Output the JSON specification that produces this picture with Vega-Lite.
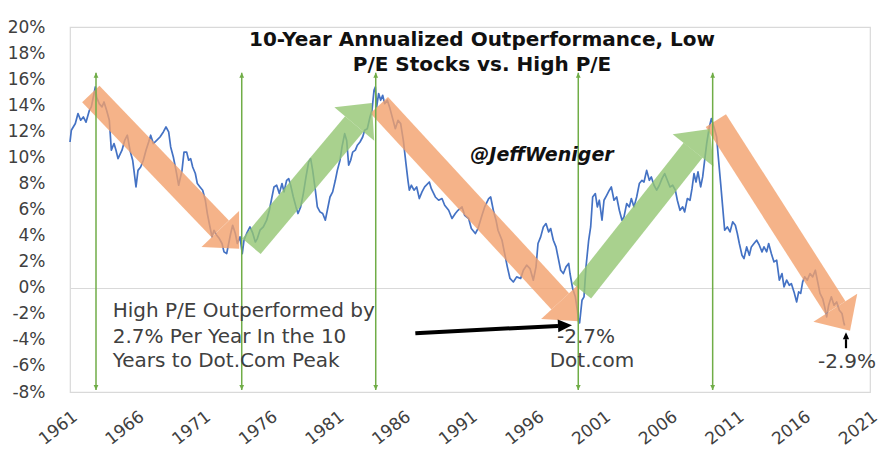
{
  "$schema": "https://vega.github.io/schema/vega-lite/v6.json",
  "width": 800,
  "height": 365,
  "autosize": {"type": "none"},
  "padding": {"left": 70, "top": 27, "right": 24, "bottom": 69},
  "background": "white",
  "config": {
    "font": "DejaVu Sans",
    "view": {"stroke": "#d9d9d9", "strokeWidth": 1.2},
    "axis": {"labelFont": "DejaVu Sans", "labelColor": "#404040", "ticks": false, "domain": false, "title": null}
  },
  "datasets": {
    "outperf": [
      {"year": 1961.0, "pct": 11.18}, {"year": 1961.1, "pct": 12.08}, {"year": 1961.4, "pct": 12.6}, {"year": 1961.6, "pct": 13.36},
      {"year": 1961.8, "pct": 12.85}, {"year": 1962.0, "pct": 13.1}, {"year": 1962.2, "pct": 12.7}, {"year": 1962.45, "pct": 13.6},
      {"year": 1962.6, "pct": 13.87}, {"year": 1962.9, "pct": 15.4}, {"year": 1963.0, "pct": 14.6}, {"year": 1963.2, "pct": 14.1},
      {"year": 1963.4, "pct": 13.87}, {"year": 1963.55, "pct": 14.25}, {"year": 1963.75, "pct": 13.6}, {"year": 1963.95, "pct": 12.85},
      {"year": 1964.1, "pct": 10.55}, {"year": 1964.3, "pct": 11.06}, {"year": 1964.45, "pct": 10.55}, {"year": 1964.6, "pct": 9.9},
      {"year": 1964.9, "pct": 10.55}, {"year": 1965.1, "pct": 11.3}, {"year": 1965.3, "pct": 11.7}, {"year": 1965.5, "pct": 10.55},
      {"year": 1965.7, "pct": 9.78}, {"year": 1965.95, "pct": 7.73}, {"year": 1966.1, "pct": 9.0}, {"year": 1966.3, "pct": 9.26},
      {"year": 1966.5, "pct": 9.78}, {"year": 1966.7, "pct": 10.55}, {"year": 1966.9, "pct": 11.18}, {"year": 1967.05, "pct": 11.7},
      {"year": 1967.25, "pct": 11.06}, {"year": 1967.5, "pct": 11.3}, {"year": 1967.75, "pct": 11.56}, {"year": 1968.0, "pct": 11.95},
      {"year": 1968.2, "pct": 12.33}, {"year": 1968.4, "pct": 11.95}, {"year": 1968.55, "pct": 10.8}, {"year": 1968.75, "pct": 10.03},
      {"year": 1968.95, "pct": 9.0}, {"year": 1969.15, "pct": 7.86}, {"year": 1969.4, "pct": 9.0}, {"year": 1969.55, "pct": 10.4},
      {"year": 1969.75, "pct": 10.4}, {"year": 1969.9, "pct": 9.78}, {"year": 1970.05, "pct": 9.9}, {"year": 1970.2, "pct": 9.26},
      {"year": 1970.4, "pct": 8.76}, {"year": 1970.55, "pct": 7.99}, {"year": 1970.75, "pct": 7.73}, {"year": 1970.95, "pct": 7.48},
      {"year": 1971.15, "pct": 6.71}, {"year": 1971.3, "pct": 5.69}, {"year": 1971.5, "pct": 4.66}, {"year": 1971.65, "pct": 3.9},
      {"year": 1971.8, "pct": 4.4}, {"year": 1972.0, "pct": 4.03}, {"year": 1972.2, "pct": 3.77}, {"year": 1972.4, "pct": 3.39},
      {"year": 1972.55, "pct": 2.75}, {"year": 1972.75, "pct": 2.62}, {"year": 1972.9, "pct": 3.39}, {"year": 1973.05, "pct": 4.16},
      {"year": 1973.2, "pct": 4.79}, {"year": 1973.4, "pct": 4.16}, {"year": 1973.55, "pct": 3.39}, {"year": 1973.75, "pct": 3.9},
      {"year": 1973.92, "pct": 2.62}, {"year": 1974.05, "pct": 3.64}, {"year": 1974.25, "pct": 4.16}, {"year": 1974.5, "pct": 4.66},
      {"year": 1974.7, "pct": 4.2}, {"year": 1974.9, "pct": 3.51}, {"year": 1975.05, "pct": 3.77}, {"year": 1975.25, "pct": 4.41},
      {"year": 1975.5, "pct": 4.66}, {"year": 1975.75, "pct": 5.18}, {"year": 1975.95, "pct": 5.94}, {"year": 1976.1, "pct": 6.71},
      {"year": 1976.3, "pct": 7.73}, {"year": 1976.5, "pct": 7.86}, {"year": 1976.7, "pct": 7.22}, {"year": 1976.9, "pct": 7.99},
      {"year": 1977.05, "pct": 7.35}, {"year": 1977.25, "pct": 8.24}, {"year": 1977.4, "pct": 8.37}, {"year": 1977.55, "pct": 7.86},
      {"year": 1977.75, "pct": 6.96}, {"year": 1977.95, "pct": 6.2}, {"year": 1978.1, "pct": 5.69}, {"year": 1978.3, "pct": 6.2},
      {"year": 1978.5, "pct": 7.22}, {"year": 1978.7, "pct": 8.5}, {"year": 1978.9, "pct": 9.65}, {"year": 1979.05, "pct": 9.9},
      {"year": 1979.2, "pct": 9.0}, {"year": 1979.4, "pct": 7.48}, {"year": 1979.55, "pct": 6.2}, {"year": 1979.75, "pct": 5.82},
      {"year": 1979.95, "pct": 5.69}, {"year": 1980.15, "pct": 5.18}, {"year": 1980.3, "pct": 5.94}, {"year": 1980.5, "pct": 6.96},
      {"year": 1980.7, "pct": 7.35}, {"year": 1980.9, "pct": 8.24}, {"year": 1981.05, "pct": 9.0}, {"year": 1981.25, "pct": 9.78},
      {"year": 1981.4, "pct": 10.8}, {"year": 1981.6, "pct": 11.82}, {"year": 1981.75, "pct": 11.3}, {"year": 1981.9, "pct": 9.4},
      {"year": 1982.05, "pct": 9.78}, {"year": 1982.2, "pct": 10.4}, {"year": 1982.4, "pct": 10.55}, {"year": 1982.55, "pct": 10.93},
      {"year": 1982.75, "pct": 11.18}, {"year": 1982.95, "pct": 11.56}, {"year": 1983.1, "pct": 12.08}, {"year": 1983.3, "pct": 12.2},
      {"year": 1983.5, "pct": 13.1}, {"year": 1983.65, "pct": 13.61}, {"year": 1983.8, "pct": 15.15}, {"year": 1983.9, "pct": 15.4},
      {"year": 1984.0, "pct": 13.87}, {"year": 1984.15, "pct": 14.9}, {"year": 1984.3, "pct": 14.38}, {"year": 1984.45, "pct": 14.76},
      {"year": 1984.6, "pct": 14.12}, {"year": 1984.8, "pct": 14.38}, {"year": 1985.0, "pct": 13.74}, {"year": 1985.2, "pct": 12.97},
      {"year": 1985.4, "pct": 12.2}, {"year": 1985.6, "pct": 12.84}, {"year": 1985.8, "pct": 12.59}, {"year": 1986.0, "pct": 11.3},
      {"year": 1986.2, "pct": 9.5}, {"year": 1986.35, "pct": 8.2}, {"year": 1986.45, "pct": 7.48}, {"year": 1986.6, "pct": 7.86},
      {"year": 1986.8, "pct": 7.48}, {"year": 1987.0, "pct": 7.73}, {"year": 1987.2, "pct": 6.84}, {"year": 1987.4, "pct": 7.35},
      {"year": 1987.6, "pct": 7.73}, {"year": 1987.95, "pct": 8.11}, {"year": 1988.1, "pct": 7.6}, {"year": 1988.4, "pct": 6.96},
      {"year": 1988.65, "pct": 6.71}, {"year": 1988.9, "pct": 6.84}, {"year": 1989.1, "pct": 6.33}, {"year": 1989.4, "pct": 5.94},
      {"year": 1989.65, "pct": 5.31}, {"year": 1989.9, "pct": 5.69}, {"year": 1990.1, "pct": 5.94}, {"year": 1990.4, "pct": 6.2},
      {"year": 1990.6, "pct": 5.56}, {"year": 1990.9, "pct": 5.31}, {"year": 1991.1, "pct": 4.54}, {"year": 1991.4, "pct": 4.16},
      {"year": 1991.6, "pct": 4.54}, {"year": 1991.9, "pct": 5.56}, {"year": 1992.1, "pct": 6.2}, {"year": 1992.4, "pct": 6.84},
      {"year": 1992.55, "pct": 6.96}, {"year": 1992.75, "pct": 5.94}, {"year": 1992.95, "pct": 5.18}, {"year": 1993.1, "pct": 4.41},
      {"year": 1993.4, "pct": 3.64}, {"year": 1993.6, "pct": 2.62}, {"year": 1993.8, "pct": 1.6}, {"year": 1994.0, "pct": 0.71},
      {"year": 1994.25, "pct": 0.44}, {"year": 1994.5, "pct": 0.83}, {"year": 1994.8, "pct": 0.71}, {"year": 1995.0, "pct": 1.34},
      {"year": 1995.25, "pct": 1.73}, {"year": 1995.5, "pct": 1.47}, {"year": 1995.75, "pct": 0.58}, {"year": 1995.95, "pct": 1.6},
      {"year": 1996.1, "pct": 3.39}, {"year": 1996.3, "pct": 3.9}, {"year": 1996.5, "pct": 4.66}, {"year": 1996.7, "pct": 4.92},
      {"year": 1996.9, "pct": 4.28}, {"year": 1997.05, "pct": 4.54}, {"year": 1997.25, "pct": 3.64}, {"year": 1997.45, "pct": 3.13},
      {"year": 1997.6, "pct": 2.36}, {"year": 1997.8, "pct": 1.34}, {"year": 1998.0, "pct": 1.09}, {"year": 1998.2, "pct": 1.6},
      {"year": 1998.4, "pct": 1.86}, {"year": 1998.5, "pct": 1.09}, {"year": 1998.7, "pct": -0.06}, {"year": 1998.9, "pct": -0.7},
      {"year": 1999.05, "pct": -1.73}, {"year": 1999.15, "pct": -2.62}, {"year": 1999.22, "pct": -2.7}, {"year": 1999.4, "pct": -0.96},
      {"year": 1999.55, "pct": -0.7}, {"year": 1999.7, "pct": 1.6}, {"year": 1999.9, "pct": 3.64}, {"year": 2000.05, "pct": 4.66},
      {"year": 2000.2, "pct": 6.96}, {"year": 2000.4, "pct": 7.22}, {"year": 2000.55, "pct": 6.2}, {"year": 2000.7, "pct": 6.71},
      {"year": 2000.9, "pct": 5.18}, {"year": 2001.05, "pct": 6.71}, {"year": 2001.25, "pct": 7.09}, {"year": 2001.45, "pct": 7.48},
      {"year": 2001.6, "pct": 7.73}, {"year": 2001.8, "pct": 6.71}, {"year": 2002.0, "pct": 6.96}, {"year": 2002.2, "pct": 5.94},
      {"year": 2002.4, "pct": 5.18}, {"year": 2002.55, "pct": 5.43}, {"year": 2002.75, "pct": 6.45}, {"year": 2002.95, "pct": 6.2},
      {"year": 2003.1, "pct": 6.84}, {"year": 2003.3, "pct": 6.2}, {"year": 2003.5, "pct": 6.96}, {"year": 2003.7, "pct": 7.99},
      {"year": 2003.9, "pct": 8.24}, {"year": 2004.05, "pct": 8.11}, {"year": 2004.25, "pct": 9.0}, {"year": 2004.45, "pct": 8.24},
      {"year": 2004.6, "pct": 8.5}, {"year": 2004.8, "pct": 7.86}, {"year": 2005.0, "pct": 7.48}, {"year": 2005.2, "pct": 7.86},
      {"year": 2005.4, "pct": 8.37}, {"year": 2005.6, "pct": 8.76}, {"year": 2005.8, "pct": 8.24}, {"year": 2006.0, "pct": 7.73},
      {"year": 2006.2, "pct": 7.86}, {"year": 2006.4, "pct": 7.48}, {"year": 2006.55, "pct": 6.71}, {"year": 2006.75, "pct": 5.94},
      {"year": 2006.95, "pct": 6.2}, {"year": 2007.1, "pct": 5.82}, {"year": 2007.3, "pct": 6.84}, {"year": 2007.5, "pct": 6.71},
      {"year": 2007.65, "pct": 7.6}, {"year": 2007.8, "pct": 8.76}, {"year": 2007.95, "pct": 8.11}, {"year": 2008.1, "pct": 8.89},
      {"year": 2008.3, "pct": 7.73}, {"year": 2008.45, "pct": 8.5}, {"year": 2008.6, "pct": 9.78}, {"year": 2008.75, "pct": 11.06},
      {"year": 2008.95, "pct": 12.33}, {"year": 2009.1, "pct": 12.97}, {"year": 2009.3, "pct": 12.33}, {"year": 2009.5, "pct": 11.56},
      {"year": 2009.6, "pct": 10.29}, {"year": 2009.8, "pct": 7.99}, {"year": 2009.95, "pct": 6.2}, {"year": 2010.1, "pct": 4.41},
      {"year": 2010.3, "pct": 4.66}, {"year": 2010.5, "pct": 4.28}, {"year": 2010.7, "pct": 5.05}, {"year": 2010.9, "pct": 4.79},
      {"year": 2011.05, "pct": 4.16}, {"year": 2011.2, "pct": 3.39}, {"year": 2011.4, "pct": 2.49}, {"year": 2011.55, "pct": 2.24},
      {"year": 2011.75, "pct": 3.13}, {"year": 2011.95, "pct": 2.49}, {"year": 2012.1, "pct": 3.13}, {"year": 2012.3, "pct": 3.39},
      {"year": 2012.5, "pct": 3.64}, {"year": 2012.7, "pct": 3.26}, {"year": 2012.9, "pct": 2.75}, {"year": 2013.05, "pct": 3.13},
      {"year": 2013.25, "pct": 2.75}, {"year": 2013.4, "pct": 3.39}, {"year": 2013.6, "pct": 2.62}, {"year": 2013.8, "pct": 1.98},
      {"year": 2014.0, "pct": 2.11}, {"year": 2014.2, "pct": 0.58}, {"year": 2014.4, "pct": 1.09}, {"year": 2014.55, "pct": 0.06},
      {"year": 2014.75, "pct": 0.58}, {"year": 2014.95, "pct": 0.19}, {"year": 2015.1, "pct": 0.32}, {"year": 2015.3, "pct": -0.32},
      {"year": 2015.5, "pct": -1.09}, {"year": 2015.65, "pct": -0.32}, {"year": 2015.8, "pct": -0.44}, {"year": 2015.95, "pct": 0.45},
      {"year": 2016.1, "pct": 0.83}, {"year": 2016.3, "pct": 0.58}, {"year": 2016.5, "pct": 1.09}, {"year": 2016.7, "pct": 0.83},
      {"year": 2016.9, "pct": 1.34}, {"year": 2017.05, "pct": 0.58}, {"year": 2017.25, "pct": -0.44}, {"year": 2017.45, "pct": -0.83},
      {"year": 2017.6, "pct": -1.47}, {"year": 2017.75, "pct": -2.24}, {"year": 2017.9, "pct": -1.34}, {"year": 2018.1, "pct": -0.7},
      {"year": 2018.3, "pct": -1.34}, {"year": 2018.5, "pct": -1.09}, {"year": 2018.7, "pct": -1.73}, {"year": 2018.9, "pct": -1.98},
      {"year": 2019.05, "pct": -2.75}, {"year": 2019.1, "pct": -2.9}
    ],
    "trends": [
      {"id": "a1", "trend": "falling", "year": 1962.56, "pct": 14.86, "year2": 1972.27, "pct2": 4.51},
      {"id": "a2", "trend": "rising", "year": 1974.61, "pct": 3.18, "year2": 1982.32, "pct2": 12.56},
      {"id": "a3", "trend": "falling", "year": 1984.19, "pct": 14.0, "year2": 1997.77, "pct2": -1.04},
      {"id": "a4", "trend": "rising", "year": 1999.38, "pct": -0.25, "year2": 2007.73, "pct2": 10.54},
      {"id": "a5", "trend": "falling", "year": 2009.44, "pct": 12.82, "year2": 2018.4, "pct2": -1.53}
    ],
    "turns": [
      {"year": 1962.95, "pct": 16.5, "pct2": -7.85},
      {"year": 1973.88, "pct": 16.5, "pct2": -7.85},
      {"year": 1983.93, "pct": 16.5, "pct2": -7.85},
      {"year": 1999.12, "pct": 16.5, "pct2": -7.85},
      {"year": 2009.2, "pct": 16.5, "pct2": -7.85}
    ],
    "pointers": [
      {"id": "dotcom", "year": 1986.9, "pct": -3.49, "year2": 1997.6, "pct2": -2.93},
      {"id": "latest", "year": 2019.2, "pct": -4.64, "year2": 2019.2, "pct2": -3.95}
    ],
    "titles": [
      {"year": 1991.9, "pct": 18.98, "label": "10-Year Annualized Outperformance, Low"},
      {"year": 1991.9, "pct": 17.06, "label": "P/E Stocks vs. High P/E"}
    ],
    "handle": [
      {"year": 1996.4, "pct": 10.16, "label": "@JeffWeniger"}
    ],
    "note": [
      {"year": 1964.2, "pct": -1.8, "label": "High P/E Outperformed by"},
      {"year": 1964.2, "pct": -3.8, "label": "2.7% Per Year In the 10"},
      {"year": 1964.2, "pct": -5.64, "label": "Years to Dot.Com Peak"}
    ],
    "callouts": [
      {"year": 1999.7, "pct": -3.8, "label": "-2.7%"},
      {"year": 2000.15, "pct": -5.64, "label": "Dot.com"},
      {"year": 2019.28, "pct": -5.71, "label": "-2.9%"}
    ]
  },
  "encoding": {
    "x": {
      "field": "year",
      "type": "quantitative",
      "scale": {"domain": [1961, 2021], "nice": false, "zero": false},
      "axis": {
        "values": [1961, 1966, 1971, 1976, 1981, 1986, 1991, 1996, 2001, 2006, 2011, 2016, 2021],
        "format": "d",
        "grid": false,
        "labelAngle": -38,
        "labelAlign": "right",
        "labelBaseline": "top",
        "labelFontSize": 17,
        "labelPadding": 16
      }
    },
    "y": {
      "field": "pct",
      "type": "quantitative",
      "scale": {"domain": [-8, 20], "nice": false, "zero": false},
      "axis": {
        "values": [-8, -6, -4, -2, 0, 2, 4, 6, 8, 10, 12, 14, 16, 18, 20],
        "labelExpr": "datum.value + '%'",
        "labelFontSize": 17,
        "labelPadding": 25,
        "grid": true,
        "gridColor": {"condition": {"test": "datum.value === 0", "value": "#d9d9d9"}, "value": "transparent"},
        "gridWidth": 1.2
      }
    }
  },
  "layer": [
    {
      "data": {"name": "outperf"},
      "mark": {"type": "line", "color": "#4472C4", "strokeWidth": 1.7, "strokeJoin": "round"}
    },
    {
      "data": {"name": "trends"},
      "mark": {"type": "rule", "strokeWidth": 24, "strokeCap": "butt", "opacity": 0.8},
      "encoding": {
        "x2": {"field": "year2"},
        "y2": {"field": "pct2"},
        "color": {"field": "trend", "type": "nominal", "scale": {"domain": ["falling", "rising"], "range": ["#F2A06B", "#94C672"]}, "legend": null}
      }
    },
    {
      "data": {"name": "trends"},
      "transform": [{"filter": "datum.id === 'a1'"}],
      "mark": {"type": "point", "shape": "M0,-1L1.05,0L0,1Z", "size": 2704, "angle": 46.2, "filled": true, "opacity": 0.8, "strokeWidth": 0},
      "encoding": {"x": {"field": "year2", "type": "quantitative"}, "y": {"field": "pct2", "type": "quantitative"}, "color": {"field": "trend", "type": "nominal", "legend": null}}
    },
    {
      "data": {"name": "trends"},
      "transform": [{"filter": "datum.id === 'a2'"}],
      "mark": {"type": "point", "shape": "M0,-1L1.05,0L0,1Z", "size": 2704, "angle": -50, "filled": true, "opacity": 0.8, "strokeWidth": 0},
      "encoding": {"x": {"field": "year2", "type": "quantitative"}, "y": {"field": "pct2", "type": "quantitative"}, "color": {"field": "trend", "type": "nominal", "legend": null}}
    },
    {
      "data": {"name": "trends"},
      "transform": [{"filter": "datum.id === 'a3'"}],
      "mark": {"type": "point", "shape": "M0,-1L1.05,0L0,1Z", "size": 2704, "angle": 47.3, "filled": true, "opacity": 0.8, "strokeWidth": 0},
      "encoding": {"x": {"field": "year2", "type": "quantitative"}, "y": {"field": "pct2", "type": "quantitative"}, "color": {"field": "trend", "type": "nominal", "legend": null}}
    },
    {
      "data": {"name": "trends"},
      "transform": [{"filter": "datum.id === 'a4'"}],
      "mark": {"type": "point", "shape": "M0,-1L1.05,0L0,1Z", "size": 2704, "angle": -51.7, "filled": true, "opacity": 0.8, "strokeWidth": 0},
      "encoding": {"x": {"field": "year2", "type": "quantitative"}, "y": {"field": "pct2", "type": "quantitative"}, "color": {"field": "trend", "type": "nominal", "legend": null}}
    },
    {
      "data": {"name": "trends"},
      "transform": [{"filter": "datum.id === 'a5'"}],
      "mark": {"type": "point", "shape": "M0,-1L1.05,0L0,1Z", "size": 2704, "angle": 57.4, "filled": true, "opacity": 0.8, "strokeWidth": 0},
      "encoding": {"x": {"field": "year2", "type": "quantitative"}, "y": {"field": "pct2", "type": "quantitative"}, "color": {"field": "trend", "type": "nominal", "legend": null}}
    },
    {
      "data": {"name": "turns"},
      "mark": {"type": "rule", "color": "#70AD47", "strokeWidth": 1.5},
      "encoding": {"y2": {"field": "pct2"}}
    },
    {
      "data": {"name": "turns"},
      "mark": {"type": "point", "shape": "M0,0L-0.8,1.7L0.8,1.7Z", "size": 36, "filled": true, "color": "#70AD47", "opacity": 1, "strokeWidth": 0}
    },
    {
      "data": {"name": "turns"},
      "mark": {"type": "point", "shape": "M0,0L-0.8,-1.7L0.8,-1.7Z", "size": 36, "filled": true, "color": "#70AD47", "opacity": 1, "strokeWidth": 0},
      "encoding": {"y": {"field": "pct2", "type": "quantitative"}}
    },
    {
      "data": {"name": "pointers"},
      "transform": [{"filter": "datum.id === 'dotcom'"}],
      "mark": {"type": "rule", "color": "#000000", "strokeWidth": 4, "strokeCap": "butt"},
      "encoding": {"x2": {"field": "year2"}, "y2": {"field": "pct2"}}
    },
    {
      "data": {"name": "pointers"},
      "transform": [{"filter": "datum.id === 'dotcom'"}],
      "mark": {"type": "point", "shape": "M0,-0.9L2,0L0,0.9Z", "size": 196, "angle": -2.9, "filled": true, "color": "#000000", "opacity": 1, "strokeWidth": 0},
      "encoding": {"x": {"field": "year2", "type": "quantitative"}, "y": {"field": "pct2", "type": "quantitative"}}
    },
    {
      "data": {"name": "pointers"},
      "transform": [{"filter": "datum.id === 'latest'"}],
      "mark": {"type": "rule", "color": "#000000", "strokeWidth": 2.2, "strokeCap": "butt"},
      "encoding": {"x2": {"field": "year2"}, "y2": {"field": "pct2"}}
    },
    {
      "data": {"name": "pointers"},
      "transform": [{"filter": "datum.id === 'latest'"}],
      "mark": {"type": "point", "shape": "M0,-0.9L2,0L0,0.9Z", "size": 49, "angle": -90, "filled": true, "color": "#000000", "opacity": 1, "strokeWidth": 0},
      "encoding": {"x": {"field": "year2", "type": "quantitative"}, "y": {"field": "pct2", "type": "quantitative"}}
    },
    {
      "data": {"name": "titles"},
      "mark": {"type": "text", "font": "DejaVu Sans", "fontWeight": "bold", "fontSize": 20, "color": "#111111", "align": "center", "baseline": "middle"},
      "encoding": {"text": {"field": "label"}}
    },
    {
      "data": {"name": "handle"},
      "mark": {"type": "text", "font": "DejaVu Sans", "fontWeight": "bold", "fontStyle": "italic", "fontSize": 19, "color": "#111111", "align": "center", "baseline": "middle"},
      "encoding": {"text": {"field": "label"}}
    },
    {
      "data": {"name": "note"},
      "mark": {"type": "text", "font": "DejaVu Sans", "fontSize": 20, "color": "#404040", "align": "left", "baseline": "middle"},
      "encoding": {"text": {"field": "label"}}
    },
    {
      "data": {"name": "callouts"},
      "mark": {"type": "text", "font": "DejaVu Sans", "fontSize": 20, "color": "#404040", "align": "center", "baseline": "middle"},
      "encoding": {"text": {"field": "label"}}
    }
  ]
}
